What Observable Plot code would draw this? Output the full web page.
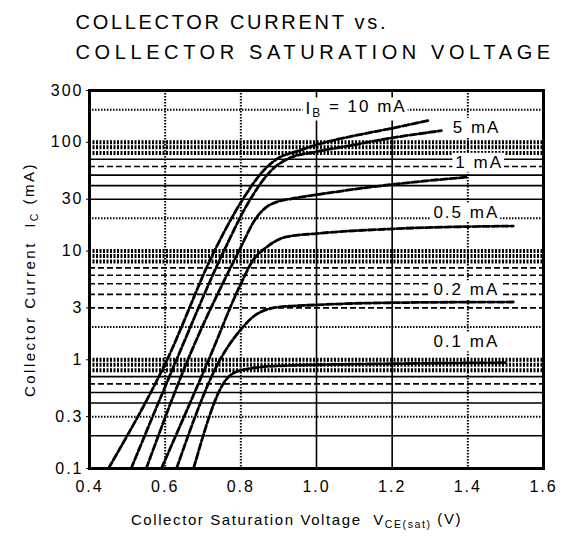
<!DOCTYPE html>
<html>
<head>
<meta charset="utf-8">
<script src="https://cdn.jsdelivr.net/npm/d3@7"></script>
<script src="https://cdn.jsdelivr.net/npm/@observablehq/plot@0.6"></script>
<style>
  html, body { margin: 0; padding: 0; background: #fff; }
  #chart svg { display: block; font-family: "Liberation Sans", Arial, sans-serif; }
</style>
</head>
<body>
<div id="chart"></div>
<script>
// ---- Data ----
const seriesLabels = ["10 mA", "5 mA", "1 mA", "0.5 mA", "0.2 mA", "0.1 mA"];

const vce10  = [0.45, 0.605, 0.73, 0.80, 0.86, 0.90, 0.95, 1.00, 1.10, 1.20, 1.30];
const ic10   = [0.1,  1,     10,   28,   55,   72,   83,   95,   115,  135,  160];
const vce5   = [0.51, 0.63, 0.755, 0.82, 0.88, 0.93, 1.00, 1.10, 1.20, 1.33];
const ic5    = [0.1,  1,    10,    28,   55,   72,   82,   95,   110,  128];
const vce1   = [0.55, 0.66, 0.795, 0.84, 0.88, 0.95, 1.00, 1.20, 1.40];
const ic1    = [0.1,  1,    10,    20,   27,   31,   33,   41,   48];
const vce05  = [0.59, 0.715, 0.80, 0.83, 0.87, 0.92, 1.00, 1.20, 1.52];
const ic05   = [0.1,  1,     5,    8,    11,   13.5, 14.5, 16,   17];
const vce02  = [0.63, 0.745, 0.80, 0.84, 0.90, 1.00, 1.20, 1.52];
const ic02   = [0.1,  1,     1.9,  2.6,  3.05, 3.2,  3.35, 3.4];
const vce01  = [0.675, 0.76, 0.80, 0.90, 1.20, 1.50];
const ic01   = [0.1,   0.65, 0.8,  0.88, 0.92, 0.94];

const xTicks = [0.4, 0.6, 0.8, 1.0, 1.2, 1.4, 1.6];
const xTickLabels = ["0.4", "0.6", "0.8", "1.0", "1.2", "1.4", "1.6"];
const yTicks = [0.1, 0.3, 1, 3, 10, 30, 100, 300];
const yTickLabels = ["0.1", "0.3", "1", "3", "10", "30", "100", "300"];

// grid lines as they appear in the scan
const gridXSolid = [1.0, 1.2];
const gridXDotted = [0.6, 0.8, 1.4];
const gridYSolid = [0.2, 0.4, 0.5, 0.7, 30, 40, 50, 70];
const gridYDashed = [0.6, 3, 4, 5, 6, 7, 60];
const gridYDotted = [0.3, 2, 20, 200];
const gridYBand = [0.8, 0.9, 1, 8, 9, 10, 80, 90, 100];

// label positions (Vce, Ic) for the base-current annotations
const labelX = [0.971, 1.36, 1.367, 1.309, 1.309, 1.309];
const labelY = [205, 137, 65.5, 22.8, 4.39, 1.46];
const labelText = ["I_{B} = 10 mA", "5 mA", "1 mA", "0.5 mA", "0.2 mA", "0.1 mA"];

const titleLines = ["COLLECTOR CURRENT vs.", "COLLECTOR SATURATION VOLTAGE"];
const xLabel = "Collector Saturation Voltage  V_{CE(sat)} (V)";
const yLabel = "Collector Current  I_{C} (mA)";

// ---- build tidy table ----
const seriesX = [vce10, vce5, vce1, vce05, vce02, vce01];
const seriesY = [ic10, ic5, ic1, ic05, ic02, ic01];
const curves = [];
seriesX.forEach((xs, i) => xs.forEach((x, j) => curves.push({s: seriesLabels[i], x, y: seriesY[i][j]})));
const labels = labelText.map((t, i) => ({t, x: labelX[i], y: labelY[i]}));

const font = "'Liberation Sans', Arial, sans-serif";

const plot = Plot.plot({
  width: 571,
  height: 541,
  marginTop: 90,
  marginBottom: 73,
  marginLeft: 89,
  marginRight: 28,
  style: {fontFamily: font, background: "#fff", overflow: "visible"},
  x: {domain: [0.4, 1.6], ticks: xTicks, label: null},
  y: {type: "log", domain: [0.1, 300], ticks: yTicks, label: null},
  marks: [
    // horizontal grid
    Plot.ruleY(gridYSolid, {stroke: "#000", strokeWidth: 1.6}),
    Plot.ruleY(gridYDashed, {stroke: "#000", strokeWidth: 1.6, strokeDasharray: "6,3"}),
    Plot.ruleY(gridYDotted, {stroke: "#000", strokeWidth: 2, strokeDasharray: "1.5,1.5"}),
    Plot.ruleY(gridYBand, {stroke: "#000", strokeWidth: 4, strokeDasharray: "2,1.5"}),
    // vertical grid
    Plot.ruleX(gridXSolid, {stroke: "#000", strokeWidth: 1.6}),
    Plot.ruleX(gridXDotted, {stroke: "#000", strokeWidth: 2, strokeDasharray: "1.5,1.5"}),
    // curves
    Plot.line(curves, {x: "x", y: "y", z: "s", stroke: "#000", strokeWidth: 2.8, strokeDasharray: "7,2.5", curve: "monotone-x"}),
    // labels
    Plot.text(labels, {x: "x", y: "y", text: "t", textAnchor: "start", fontSize: 17, fill: "#000",
      className: "ib-label"}),
    // frame
    Plot.frame({stroke: "#000", strokeWidth: 3}),
    // axes
    Plot.axisX({ticks: xTicks, tickFormat: d => xTickLabels[xTicks.indexOf(d)], tickSize: 0, tickPadding: 12, fontSize: 16, label: null}),
    Plot.axisY({ticks: yTicks, tickFormat: d => yTickLabels[yTicks.indexOf(d)], tickSize: 3, tickPadding: 3, fontSize: 16, label: null}),
    // titles
    Plot.text([titleLines[0]], {frameAnchor: "top-left", dx: -14, dy: -68, textAnchor: "start", lineAnchor: "middle", fontSize: 20, fill: "#000"}),
    Plot.text([titleLines[1]], {frameAnchor: "top-left", dx: -14, dy: -38, textAnchor: "start", lineAnchor: "middle", fontSize: 20, fill: "#000"}),
    Plot.text([xLabel], {frameAnchor: "bottom", dx: -20, dy: 52, textAnchor: "middle", lineAnchor: "middle", fontSize: 15, fill: "#000"}),
    Plot.text([yLabel], {frameAnchor: "left", dx: -59, rotate: -90, textAnchor: "middle", lineAnchor: "middle", fontSize: 15, fill: "#000"})
  ]
});

// subscripts
const NS = "http://www.w3.org/2000/svg";
plot.querySelectorAll("text").forEach(t => {
  const s = t.textContent;
  if (!s.includes("_{")) return;
  const parts = s.split(/(_\{[^}]*\})/).filter(p => p.length);
  t.textContent = "";
  let shifted = false;
  parts.forEach(p => {
    const ts = document.createElementNS(NS, "tspan");
    if (p.startsWith("_{")) {
      ts.textContent = p.slice(2, -1);
      ts.setAttribute("font-size", "0.7em");
      ts.setAttribute("dy", "0.3em");
      shifted = true;
    } else {
      ts.textContent = p;
      if (shifted) { ts.setAttribute("dy", "-0.3em"); shifted = false; }
    }
    t.appendChild(ts);
  });
});
// letter spacing (the scanned font is wide)
plot.querySelectorAll("text").forEach(t => {
  const s = t.textContent;
  if (s === titleLines[0]) t.style.letterSpacing = "2.7px";
  else if (s === titleLines[1]) t.style.letterSpacing = "4.6px";
  else if (s.startsWith("Collector Saturation")) t.style.letterSpacing = "1.6px";
  else if (s.startsWith("Collector Current")) t.style.letterSpacing = "2.5px";
  else if (s.includes("mA")) t.style.letterSpacing = "2px";
});
plot.querySelectorAll("g[aria-label='x-axis tick label'] text, g[aria-label='y-axis tick label'] text").forEach(t => t.style.letterSpacing = "2px");

document.getElementById("chart").appendChild(plot);

// white boxes behind the base-current labels (as in the datasheet)
plot.querySelectorAll("g.ib-label text, .ib-label text").forEach(t => {
  const b = t.getBBox();
  const r = document.createElementNS(NS, "rect");
  r.setAttribute("x", b.x - 3);
  r.setAttribute("y", b.y);
  r.setAttribute("width", b.width + 4);
  r.setAttribute("height", b.height);
  r.setAttribute("fill", "#fff");
  if (t.getAttribute("transform")) r.setAttribute("transform", t.getAttribute("transform"));
  t.parentNode.insertBefore(r, t);
});
</script>
</body>
</html>
